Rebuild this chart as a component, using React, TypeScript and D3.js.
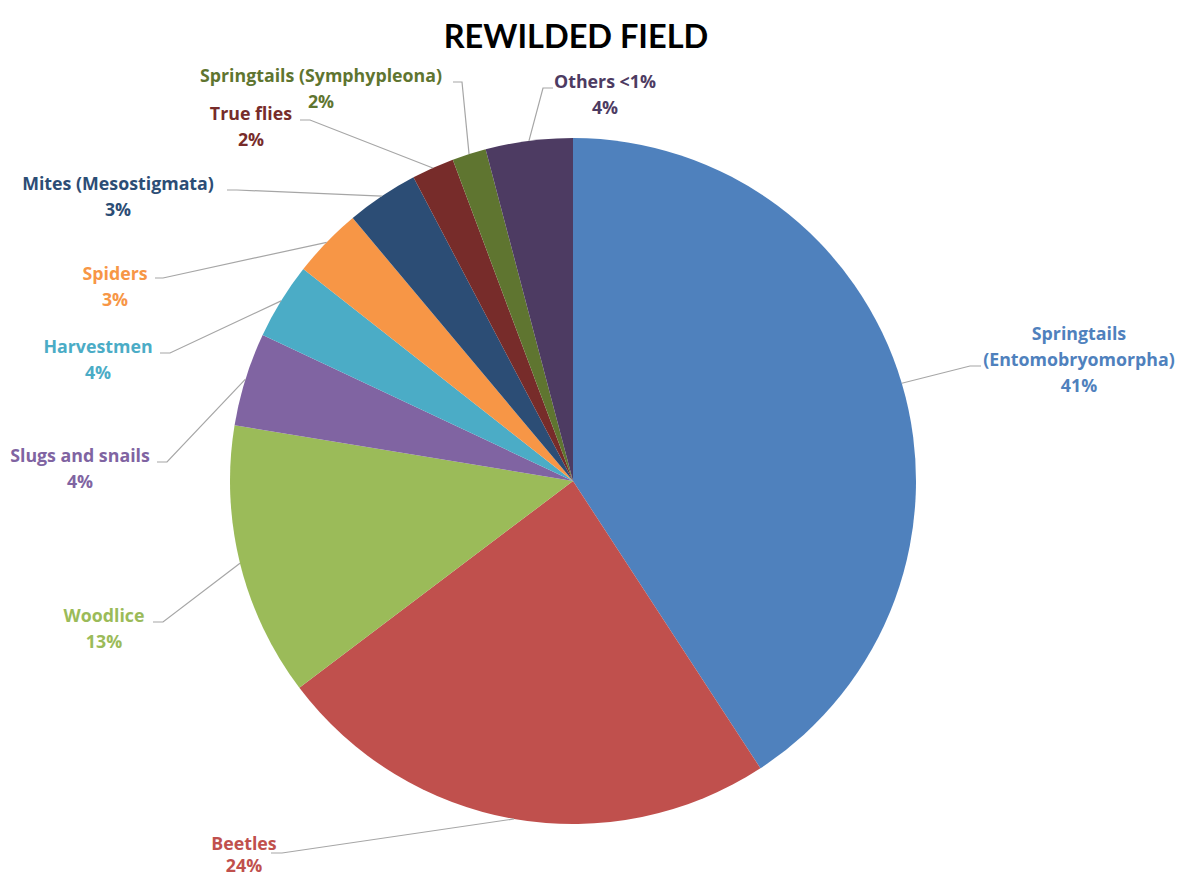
import React from 'react';
import * as d3 from 'd3';

// Share of individuals per group (percent)
const categories = [
  'Springtails (Entomobryomorpha)',
  'Beetles',
  'Woodlice',
  'Slugs and snails',
  'Harvestmen',
  'Spiders',
  'Mites (Mesostigmata)',
  'True flies',
  'Springtails (Symphypleona)',
  'Others <1%',
];
const shares = [40.8, 23.9, 12.9, 4.4, 3.6, 3.3, 3.4, 2.0, 1.6, 4.1];
const colors = [
  '#4F81BD', '#C0504D', '#9BBB59', '#8064A2', '#4BACC6',
  '#F79646', '#2C4D75', '#772C2A', '#5F7530', '#4D3B62',
];

// Label placement (text centre x, first baseline y, leader elbow and end)
const labelLayout = [
  { x: 1079, y: 340, elbow: [970, 366], end: [981, 366], wrap: true },
  { x: 244, y: 850, elbow: [282, 853], end: [271, 853] },
  { x: 104, y: 622, elbow: [163, 622], end: [153, 622] },
  { x: 80, y: 462, elbow: [167, 462], end: [157, 462] },
  { x: 98, y: 353, elbow: [170, 353], end: [160, 353] },
  { x: 115, y: 280, elbow: [163, 278], end: [155, 278] },
  { x: 118, y: 190, elbow: [237, 190], end: [227, 190] },
  { x: 251, y: 120, elbow: [310, 120], end: [300, 120] },
  { x: 321, y: 82, elbow: [462, 82], end: [453, 82] },
  { x: 605, y: 88, elbow: [543, 88], end: [553, 88] },
];

const width = 1180;
const height = 879;
const cx = 573;
const cy = 481;
const radius = 343;
const lineHeight = 26;
const font = '"Open Sans", Lato, sans-serif';

const App: React.FC = () => {
  const data = categories.map((name, i) => ({ name, value: shares[i], color: colors[i] }));
  const total = d3.sum(shares);

  const pie = d3.pie<any>().sort(null).value(d => d.value);
  const arcs = pie(data);
  const arc = d3.arc<any>().innerRadius(0).outerRadius(radius);
  const rim = d3.arc<any>().innerRadius(radius).outerRadius(radius);

  return (
    <svg width={width} height={height} style={{ position: 'absolute', left: 0, top: 0 }}>
      <rect width={width} height={height} fill="#fff" />
      <text x={576} y={48} textAnchor="middle" fontFamily="Lato, sans-serif" fontWeight={700}
        fontSize={32.5} fill="#000">REWILDED FIELD</text>
      <g transform={`translate(${cx},${cy})`}>
        {arcs.map((a, i) => (
          <path key={i} d={arc(a) as string} fill={a.data.color} />
        ))}
      </g>
      {arcs.map((a, i) => {
        const lay = labelLayout[i];
        const [sx, sy] = rim.centroid(a);
        const pts = [[cx + sx, cy + sy], lay.elbow, lay.end];
        const lines = lay.wrap ? a.data.name.split(' ') : [a.data.name];
        lines.push(`${Math.round((a.data.value / total) * 100)}%`);
        return (
          <g key={i}>
            <polyline points={pts.map(p => p.join(',')).join(' ')} fill="none"
              stroke="#A6A6A6" strokeWidth={1.2} />
            <text textAnchor="middle" fontFamily={font} fontWeight={700} fontSize={17.8}
              fill={a.data.color}>
              {lines.map((t, j) => (
                <tspan key={j} x={lay.x} y={lay.y + j * (i === 1 ? 22 : lineHeight)}>{t}</tspan>
              ))}
            </text>
          </g>
        );
      })}
    </svg>
  );
};

export default App;
